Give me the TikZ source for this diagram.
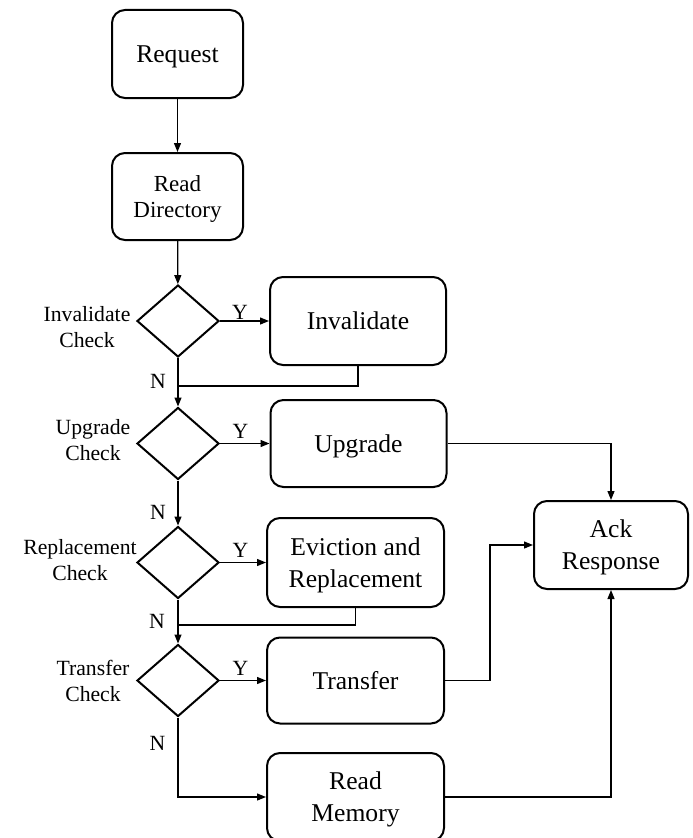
\documentclass[tikz,border=0pt]{standalone}
\usepackage{fontspec}
\setmainfont{Liberation Serif}
\usetikzlibrary{shapes.geometric,arrows.meta}
\begin{document}
\begin{tikzpicture}[x=1bp,y=-1bp,
  box/.style={draw,line width=2bp,rounded corners=13bp,minimum width=176bp,
    minimum height=88bp,align=center,inner sep=0pt,text depth=0pt,
    font=\fontsize{25.6bp}{32bp}\selectfont},
  decision/.style={draw,diamond,line width=2bp,minimum width=82bp,
    minimum height=72bp,inner sep=0pt},
  cond/.style={align=center,inner sep=0pt,font=\fontsize{21.7bp}{26.5bp}\selectfont},
  yn/.style={inner sep=0pt,font=\fontsize{21.7bp}{26bp}\selectfont},
  flow/.style={line width=1.2bp,-{Triangle[length=9bp,width=7bp]}},
  joinline/.style={line width=1.2bp}]
\useasboundingbox (0,0) rectangle (693,838);

% left column: request path and decisions
\node[box,minimum width=131bp] (req) at (177.5,54) {Request};
\node[box,minimum width=131bp,minimum height=87bp,
      font=\fontsize{23bp}{25.6bp}\selectfont] (rdir) at (177.5,196.5) {Read\\Directory};
\node[decision] (d1) at (178,321) {};
\node[decision] (d2) at (178,443.5) {};
\node[decision] (d3) at (178,562.5) {};
\node[decision] (d4) at (178,680.5) {};

% decision captions
\node[cond] (c1) at (87,327) {Invalidate\\Check};
\node[cond] (c2) at (93,440) {Upgrade\\Check};
\node[cond] (c3) at (80,560) {Replacement\\Check};
\node[cond] (c4) at (93,681) {Transfer\\Check};

% action boxes
\node[box] (inv) at (358,321) {Invalidate};
\node[box,minimum height=87bp] (upg) at (358.5,443.5) {Upgrade};
\node[box,minimum width=177bp,minimum height=89bp] (evr) at (355.5,562.5) {Eviction and\\Replacement};
\node[box,minimum width=177bp,minimum height=86bp] (trf) at (355.5,680.5) {Transfer};
\node[box,minimum width=177bp] (rmem) at (355.5,797) {Read\\Memory};
\node[box,minimum width=154bp] (ack) at (611,545) {Ack\\Response};

% branch labels
\node[yn] (y1) at (240,312) {Y};
\node[yn] (y2) at (240.5,431.5) {Y};
\node[yn] (y3) at (240.5,550) {Y};
\node[yn] (y4) at (240.5,668.5) {Y};
\node[yn] (n1) at (158,381.5) {N};
\node[yn] (n2) at (158,512) {N};
\node[yn] (n3) at (157,621.5) {N};
\node[yn] (n4) at (157.5,743.5) {N};

% merge points on the main line
\coordinate (j1) at (178,386);
\coordinate (j3) at (178,625);

% main flow
\draw[flow] (req) -- (rdir);
\draw[flow] (rdir) -- (d1);
\draw[flow] (d1) -- (d2);
\draw[flow] (d2) -- (d3);
\draw[flow] (d3) -- (d4);
\draw[flow] (d4.south) |- (rmem.west);

% yes branches
\draw[flow] (d1.east) -- (inv.west);
\draw[flow] (d2.east) -- (upg.west);
\draw[flow] (d3.east) -- (evr.west);
\draw[flow] (d4.east) -- (trf.west);

% returns to the main line
\draw[joinline] (inv.south) |- (j1);
\draw[joinline] (evr.south) |- (j3);

% responses
\draw[flow] (upg.east) -| (ack.north);
\draw[flow] (trf.east) -- ++(45,0) |- (ack.west);
\draw[flow] (rmem.east) -| (ack.south);
\end{tikzpicture}
\end{document}
